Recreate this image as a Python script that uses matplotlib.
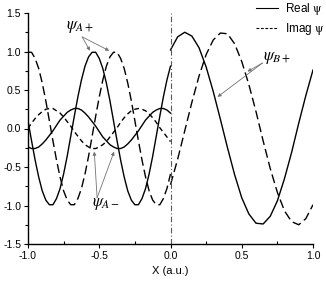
import numpy as np
import matplotlib
matplotlib.use('Agg')
import matplotlib.pyplot as plt

plt.rcParams['font.family'] = ['Liberation Sans', 'DejaVu Sans']
plt.rcParams['mathtext.fontset'] = 'stix'
plt.rcParams['axes.unicode_minus'] = False

# sampling grids (left region x<0, right region x>0)
x_left = np.linspace(-1.0, 0.0, 41)
x_right = np.linspace(0.0, 1.0, 21)

# psi A+ (incident)
re_a_plus = [0.10, -0.16, -0.41, -0.63, -0.81, -0.93, -0.99, -0.99, -0.91, -0.78,
             -0.59, -0.36, -0.10, 0.16, 0.41, 0.63, 0.81, 0.93, 0.99, 0.99,
             0.91, 0.78, 0.59, 0.36, 0.10, -0.16, -0.41, -0.63, -0.81, -0.93,
             -0.99, -0.99, -0.91, -0.78, -0.59, -0.36, -0.10, 0.16, 0.41, 0.63,
             0.81]
im_a_plus = [0.99, 0.99, 0.91, 0.78, 0.59, 0.36, 0.10, -0.16, -0.41, -0.63,
             -0.81, -0.93, -0.99, -0.99, -0.91, -0.78, -0.59, -0.36, -0.10, 0.16,
             0.41, 0.63, 0.81, 0.93, 0.99, 0.99, 0.91, 0.78, 0.59, 0.36,
             0.10, -0.16, -0.41, -0.63, -0.81, -0.93, -0.99, -0.99, -0.91, -0.78,
             -0.59]

# psi A- (reflected)
re_a_minus = [-0.24, -0.26, -0.26, -0.24, -0.20, -0.15, -0.09, -0.03, 0.04, 0.11,
              0.16, 0.21, 0.24, 0.26, 0.26, 0.24, 0.20, 0.15, 0.09, 0.03,
              -0.04, -0.11, -0.16, -0.21, -0.24, -0.26, -0.26, -0.24, -0.20, -0.15,
              -0.09, -0.03, 0.04, 0.11, 0.16, 0.21, 0.24, 0.26, 0.26, 0.24,
              0.20]
im_a_minus = [0.00, 0.07, 0.13, 0.18, 0.22, 0.25, 0.26, 0.26, 0.23, 0.20,
              0.15, 0.09, 0.03, -0.04, -0.10, -0.16, -0.21, -0.24, -0.26, -0.26,
              -0.24, -0.21, -0.17, -0.11, -0.05, 0.01, 0.08, 0.14, 0.19, 0.23,
              0.25, 0.26, 0.25, 0.23, 0.19, 0.14, 0.08, 0.01, -0.05, -0.11,
              -0.17]

# psi B+ (transmitted)
re_b_plus = [1.02, 1.19, 1.25, 1.20, 1.05, 0.80, 0.48, 0.12, -0.25, -0.60,
             -0.90, -1.11, -1.23, -1.24, -1.14, -0.94, -0.65, -0.31, 0.07, 0.43,
             0.76]
im_b_plus = [-0.73, -0.40, -0.03, 0.34, 0.68, 0.96, 1.15, 1.24, 1.23, 1.10,
             0.87, 0.57, 0.22, -0.16, -0.52, -0.83, -1.07, -1.21, -1.25, -1.17,
             -0.99]

fig = plt.figure(figsize=(3.26, 2.84), dpi=100)
ax = fig.add_axes([28 / 326, 40 / 284, 285 / 326, 231 / 284])

big_dash = (0, (6.5, 3))
small_dash = (0, (3.5, 2.5))

ax.plot(x_left, re_a_plus, color='black', lw=1.0)
ax.plot(x_left, im_a_plus, color='black', lw=1.0, ls=big_dash)
ax.plot(x_left, re_a_minus, color='black', lw=1.0)
ax.plot(x_left, im_a_minus, color='black', lw=1.0, ls=small_dash)
ax.plot(x_right, re_b_plus, color='black', lw=1.0)
ax.plot(x_right, im_b_plus, color='black', lw=1.0, ls=big_dash)

ax.axvline(0, color='0.35', lw=0.8, ls=(0, (5, 2, 1, 2)))

ax.set_xlim(-1.0, 1.0)
ax.set_ylim(-1.5, 1.5)
ax.set_xticks([-1.0, -0.5, 0.0, 0.5, 1.0])
ax.set_yticks([-1.5, -1.0, -0.5, 0.0, 0.5, 1.0, 1.5])
ax.set_xticks(np.arange(-1.0, 1.01, 0.25), minor=True)
ax.set_yticks(np.arange(-1.5, 1.51, 0.25), minor=True)
ax.xaxis.set_major_formatter(matplotlib.ticker.FormatStrFormatter('%.1f'))
ax.yaxis.set_major_formatter(matplotlib.ticker.FormatStrFormatter('%.1f'))
ax.tick_params(which='major', direction='out', length=3, width=0.8, labelsize=7.5, pad=2)
ax.tick_params(axis='x', which='minor', direction='in', length=2, width=0.8)
ax.tick_params(axis='y', which='minor', direction='out', length=2, width=0.8)
for s in ['top', 'right']:
    ax.spines[s].set_visible(False)
for s in ['left', 'bottom']:
    ax.spines[s].set_linewidth(1.0)

ax.set_xlabel('X (a.u.)', fontsize=8, labelpad=4)

# legend
h_re = plt.Line2D([], [], color='black', lw=0.8)
h_im = plt.Line2D([], [], color='black', lw=0.8, ls=(0, (2.5, 1.5)))
fig.legend([h_re, h_im], [r'Real $\mathrm{\psi}$', r'Imag $\mathrm{\psi}$'], loc='upper right',
           bbox_to_anchor=(1.0, 1.0), frameon=False, fontsize=8.5,
           handlelength=1.9, handletextpad=0.6, borderpad=0.1, borderaxespad=0,
           labelspacing=0.35)

# annotations
arr = dict(arrowstyle='-|>', color='0.45', lw=0.6, mutation_scale=5,
           shrinkA=0, shrinkB=0)
ax.text(-0.73, 1.32, r'$\psi_{A+}$', fontsize=12, ha='left', va='center')
ax.annotate('', xy=(-0.565, 1.01), xytext=(-0.62, 1.19), arrowprops=arr)
ax.annotate('', xy=(-0.43, 1.01), xytext=(-0.62, 1.19), arrowprops=arr)

ax.text(-0.55, -0.98, r'$\psi_{A-}$', fontsize=12, ha='left', va='center')
ax.annotate('', xy=(-0.535, -0.30), xytext=(-0.515, -0.90), arrowprops=arr)
ax.annotate('', xy=(-0.396, -0.30), xytext=(-0.515, -0.90), arrowprops=arr)

ax.text(0.647, 0.92, r'$\psi_{B+}$', fontsize=12, ha='left', va='center')
ax.annotate('', xy=(0.54, 0.74), xytext=(0.645, 0.85), arrowprops=arr)
ax.annotate('', xy=(0.33, 0.41), xytext=(0.645, 0.85), arrowprops=arr)

fig.savefig('out.png', dpi=100)
